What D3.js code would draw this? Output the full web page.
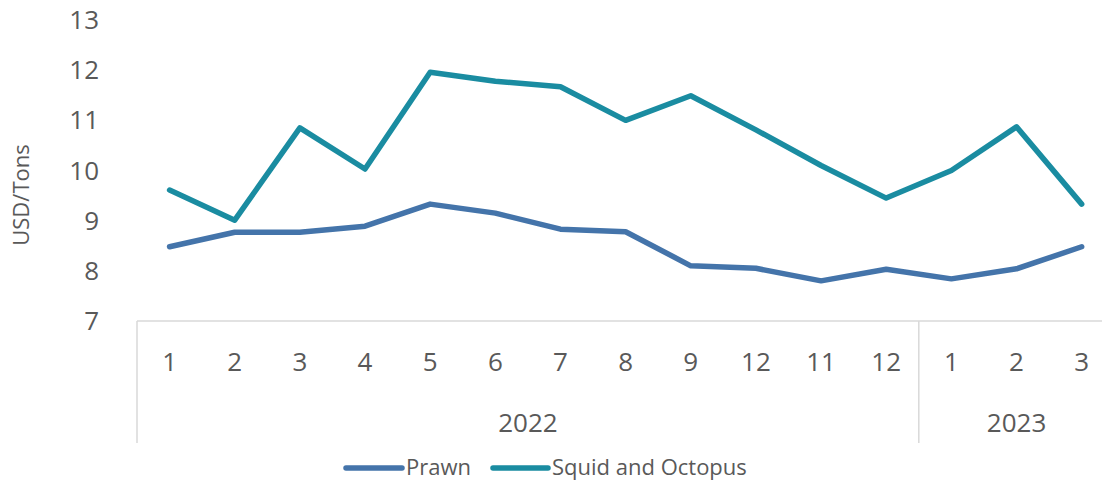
<!DOCTYPE html>
<html>
<head>
<meta charset="utf-8">
<script src="https://cdn.jsdelivr.net/npm/d3@7"></script>
<style>
  body { margin: 0; background: #fff; }
  text { font-family: "Open Sans", sans-serif; fill: #595959; }
</style>
</head>
<body>
<svg id="chart" width="1102" height="482"></svg>
<script>
// month labels as printed under the axis
var months = ["1", "2", "3", "4", "5", "6", "7", "8", "9", "12", "11", "12", "1", "2", "3"];
var years = [{ name: "2022", count: 12 }, { name: "2023", count: 3 }];
var prawn = [8.48, 8.77, 8.77, 8.89, 9.33, 9.15, 8.83, 8.78, 8.10, 8.05, 7.80, 8.03, 7.84, 8.04, 8.48];
var squid = [9.61, 9.01, 10.85, 10.03, 11.96, 11.78, 11.67, 11.0, 11.49, 10.81, 10.10, 9.45, 10.0, 10.87, 9.33];
var yTicks = [7, 8, 9, 10, 11, 12, 13];

var series = [
  { name: "Prawn", values: prawn, color: "#4474AA" },
  { name: "Squid and Octopus", values: squid, color: "#1A8CA1" }
];

var svg = d3.select("#chart");
var plotLeft = 137, bandW = 65.15, plotTop = 20, plotBottom = 321;

var x = d3.scaleBand().domain(d3.range(months.length)).range([plotLeft, plotLeft + bandW * months.length]);
var y = d3.scaleLinear().domain([7, 13]).range([plotBottom, plotTop]);

// y tick labels
svg.selectAll(".ytick").data(yTicks).enter().append("text")
  .attr("x", 99).attr("y", function(d) { return y(d); })
  .attr("dy", "0.35em").attr("text-anchor", "end")
  .style("font-size", "26px").text(function(d) { return d; });

svg.append("text")
  .attr("transform", "translate(29," + 195 + ") rotate(-90)")
  .attr("text-anchor", "middle").style("font-size", "22px")
  .text("USD/Tons");

// category axis lines
var axisColor = "#D9D9D9";
svg.append("line").attr("x1", plotLeft).attr("x2", 1102).attr("y1", plotBottom).attr("y2", plotBottom)
  .attr("stroke", axisColor).attr("stroke-width", 1.5);
var pos = 0;
var bounds = [0];
years.forEach(function(yr) { pos += yr.count; bounds.push(pos); });
bounds.slice(0, -1).forEach(function(b) {
  svg.append("line").attr("x1", x(b)).attr("x2", x(b)).attr("y1", plotBottom).attr("y2", 443)
    .attr("stroke", axisColor).attr("stroke-width", 1.5);
});

svg.selectAll(".month").data(months).enter().append("text")
  .attr("x", function(d, i) { return x(i) + x.bandwidth() / 2; })
  .attr("y", 362).attr("dy", "0.35em").attr("text-anchor", "middle")
  .style("font-size", "26px").text(function(d) { return d; });

years.forEach(function(yr, i) {
  var x0 = x(bounds[i]), x1 = x(bounds[i]) + bandW * yr.count;
  svg.append("text").attr("x", (x0 + x1) / 2).attr("y", 423).attr("dy", "0.35em")
    .attr("text-anchor", "middle").style("font-size", "26px").text(yr.name);
});

// lines
var line = d3.line()
  .x(function(d, i) { return x(i) + x.bandwidth() / 2; })
  .y(function(d) { return y(d); });

series.forEach(function(s) {
  svg.append("path").datum(s.values).attr("d", line)
    .attr("fill", "none").attr("stroke", s.color).attr("stroke-width", 5.5)
    .attr("stroke-linejoin", "round").attr("stroke-linecap", "round");
});

// legend
var legendPos = [{ x1: 346, x2: 402, tx: 406 }, { x1: 493, x2: 548, tx: 552 }];
series.forEach(function(s, i) {
  var p = legendPos[i];
  svg.append("line").attr("x1", p.x1).attr("x2", p.x2).attr("y1", 468).attr("y2", 468)
    .attr("stroke", s.color).attr("stroke-width", 5.5).attr("stroke-linecap", "round");
  svg.append("text").attr("x", p.tx).attr("y", 467).attr("dy", "0.35em")
    .style("font-size", "22px").text(s.name);
});
</script>
</body>
</html>
